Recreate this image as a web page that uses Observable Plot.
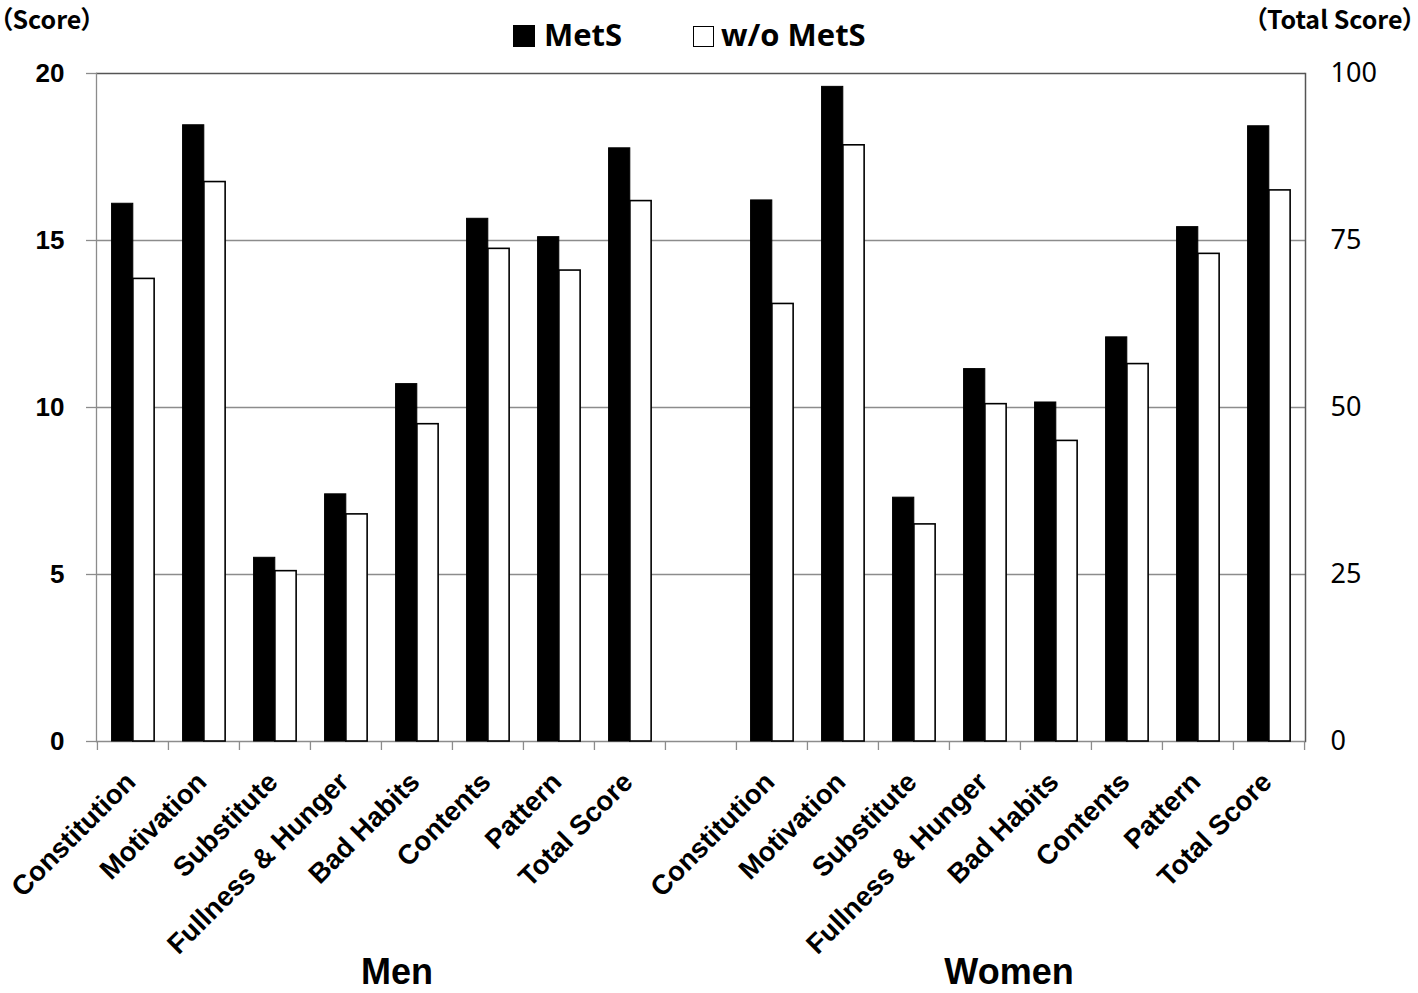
<!DOCTYPE html>
<html>
<head>
<meta charset="utf-8">
<script src="https://cdn.jsdelivr.net/npm/d3@7"></script>
<script src="https://cdn.jsdelivr.net/npm/@observablehq/plot@0.6"></script>
<style>
  html, body { margin: 0; padding: 0; background: #fff; }
  #wrap { position: relative; width: 1418px; height: 993px; overflow: hidden; font-family: "Liberation Sans", Arial, sans-serif; }
  #chart { position: absolute; left: 0; top: 0; }
  .abs { position: absolute; white-space: nowrap; color: #000; }
  .unit { font-family: "Noto Sans CJK JP", "Noto Sans", sans-serif; font-feature-settings: "palt"; font-weight: 600; font-size: 25px; line-height: 1; }
  .leg { font-family: "Open Sans", "Noto Sans", sans-serif; font-weight: 700; font-size: 31px; line-height: 1; }
  .sw { position: absolute; box-sizing: border-box; }
  .grp { font-family: "Liberation Sans", Arial, sans-serif; font-weight: 700; font-size: 36px; line-height: 40px; transform: translateX(-50%); }
</style>
</head>
<body>
<div id="wrap">
  <div id="chart"></div>
  <div class="abs unit" style="left:0px; top:6px;">（Score）</div>
  <div class="abs unit" style="right:3px; top:6px;">（Total Score）</div>
  <div class="sw" style="left:513px; top:25px; width:22px; height:22px; background:#000;"></div>
  <div class="abs leg" style="left:544px; top:19px;">MetS</div>
  <div class="sw" style="left:693px; top:26px; width:21px; height:21px; background:#fff; border:1.5px solid #000;"></div>
  <div class="abs leg" style="left:721px; top:19px;">w/o MetS</div>
  <div class="abs grp" style="left:397px; top:952px;">Men</div>
  <div class="abs grp" style="left:1009px; top:952px;">Women</div>
</div>
<script>
// ---- data ----
const categories = ["Constitution", "Motivation", "Substitute", "Fullness & Hunger", "Bad Habits", "Contents", "Pattern", "Total Score"];
const groups = ["Men", "Women"];
const series = ["MetS", "w/o MetS"];
// subscale scores (left axis); "Total Score" values are on the right axis (0-100)
const menMetS      = [16.1, 18.45, 5.5, 7.4, 10.7, 15.65, 15.1, 88.8];
const menNoMetS    = [13.85, 16.75, 5.1, 6.8, 9.5, 14.75, 14.1, 80.9];
const womenMetS    = [16.2, 19.6, 7.3, 11.15, 10.15, 12.1, 15.4, 92.1];
const womenNoMetS  = [13.1, 17.85, 6.5, 10.1, 9.0, 11.3, 14.6, 82.5];
const leftTicks  = [0, 5, 10, 15, 20];
const rightTicks = [0, 25, 50, 75, 100];
const rightMax = 100, leftMax = 20;

// ---- build table ----
const key = (g, c) => g + "|" + c;
const domain = [
  ...categories.map(c => key("Men", c)),
  "gap",
  ...categories.map(c => key("Women", c))
];
const values = {
  "Men": {"MetS": menMetS, "w/o MetS": menNoMetS},
  "Women": {"MetS": womenMetS, "w/o MetS": womenNoMetS}
};
const rows = [];
for (const g of groups) for (const s of series) categories.forEach((c, i) => {
  rows.push({group: g, series: s, cat: c, key: key(g, c), value: values[g][s][i]});
});
const yOf = d => d.cat === "Total Score" ? d.value * leftMax / rightMax : d.value;
const labels = domain.filter(k => k !== "gap").map(k => ({key: k, label: k.split("|")[1]}));

// ---- layout ----
const W = 1418, H = 993;
const mL = 96, mR = 113, mT = 73, mB = 252;
const step = (W - mL - mR) / domain.length;
const barW = step * 0.3;
const pad = step * 0.205;
const FONT = "'Liberation Sans', Arial, sans-serif";

const chart = Plot.plot({
  width: W, height: H,
  marginLeft: mL, marginRight: mR, marginTop: mT, marginBottom: mB,
  style: {fontFamily: FONT, color: "#000", background: "#fff"},
  x: {type: "band", domain, paddingInner: 0, paddingOuter: 0, axis: null},
  y: {domain: [0, leftMax], axis: null},
  marks: [
    Plot.ruleY([5, 10, 15], {stroke: "#8c8c8c", strokeWidth: 1.3}),
    Plot.ruleY([0], {stroke: "#8c8c8c", strokeWidth: 1.3}),
    Plot.ruleY([leftMax], {stroke: "#555", strokeWidth: 1.5}),
    Plot.frame({anchor: "left", stroke: "#8c8c8c", strokeWidth: 1.3}),
    Plot.frame({anchor: "right", stroke: "#555", strokeWidth: 1.5}),
    // x ticks at category boundaries
    Plot.ruleX(domain, {x: d => d, y1: 0, y2: 0, insetBottom: -9, dx: -step / 2, stroke: "#8c8c8c", strokeWidth: 1.3}),
    Plot.ruleX([domain[domain.length - 1]], {x: d => d, y1: 0, y2: 0, insetBottom: -9, dx: step / 2, stroke: "#8c8c8c", strokeWidth: 1.3}),
    // bars
    Plot.barY(rows.filter(d => d.series === "MetS"), {
      x: "key", y1: 0, y2: yOf, fill: "#000", stroke: "#000", strokeWidth: 1,
      insetLeft: pad, insetRight: step - pad - barW
    }),
    Plot.barY(rows.filter(d => d.series === "w/o MetS"), {
      x: "key", y1: 0, y2: yOf, fill: "#fff", stroke: "#000", strokeWidth: 1.6,
      insetLeft: pad + barW, insetRight: step - pad - 2 * barW
    }),
    // left axis
    Plot.axisY(leftTicks, {anchor: "left", tickSize: 10, tickPadding: 22, fontSize: 26, fontWeight: "bold", fontFamily: FONT, stroke: "#8c8c8c", strokeWidth: 1.3, fill: "#000"}),
    // right axis (Total Score)
    Plot.axisY(rightTicks.map(t => t * leftMax / rightMax), {
      anchor: "right", tickSize: 0, tickPadding: 25, fontSize: 27,
      fontFamily: "'Noto Sans', sans-serif", fill: "#000",
      tickFormat: d => String(Math.round(d * rightMax / leftMax))
    }),
    // category labels
    Plot.text(labels, {
      x: "key", y: () => 0, text: "label", rotate: -45,
      textAnchor: "end", lineAnchor: "middle",
      dx: -2, dy: 36, fontSize: 27.5, fontWeight: "bold", fontFamily: FONT, fill: "#000"
    })
  ]
});
document.getElementById("chart").appendChild(chart);
</script>
</body>
</html>
